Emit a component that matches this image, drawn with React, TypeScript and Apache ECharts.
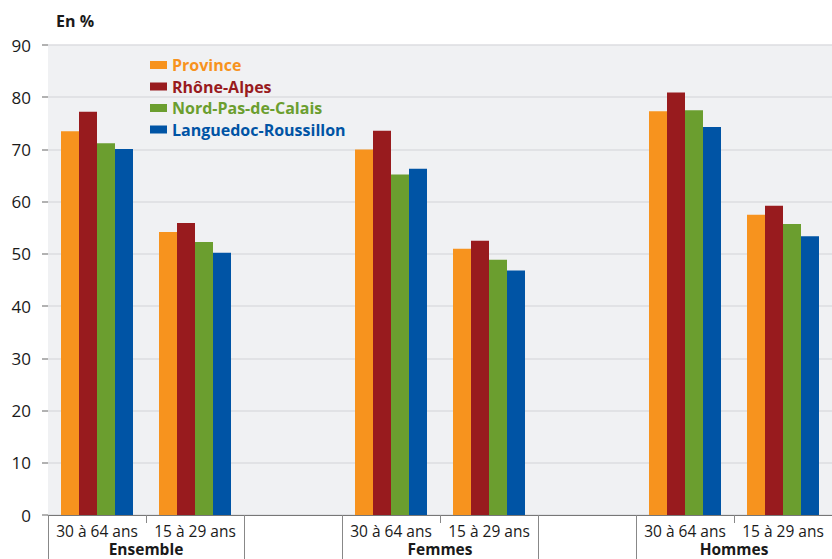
import React, { useEffect, useRef } from "react";
import * as echarts from "echarts";

const categories = ["30 à 64 ans", "15 à 29 ans", "", "30 à 64 ans", "15 à 29 ans", "", "30 à 64 ans", "15 à 29 ans"];
const groups = ["Ensemble", "Femmes", "Hommes"];
const seriesNames = ["Province", "Rhône-Alpes", "Nord-Pas-de-Calais", "Languedoc-Roussillon"];
const colors = ["#F7931E", "#981B1E", "#6B9E2F", "#0054A5"];
const province = [73.5, 54.2, null, 70.0, 51.0, null, 77.3, 57.5];
const rhoneAlpes = [77.2, 55.9, null, 73.6, 52.5, null, 80.9, 59.2];
const nordPasDeCalais = [71.2, 52.3, null, 65.2, 48.9, null, 77.5, 55.7];
const languedoc = [70.1, 50.2, null, 66.3, 46.8, null, 74.3, 53.4];
const yTicks = [0, 90, 10];

const FONT = "'Open Sans', 'Noto Sans', sans-serif";

export default function App() {
  const ref = useRef<HTMLDivElement>(null);
  useEffect(() => {
    const chart = echarts.init(ref.current!, null, { renderer: "svg" });
    const data = [province, rhoneAlpes, nordPasDeCalais, languedoc];
    chart.setOption({
      animation: false,
      textStyle: { fontFamily: FONT },
      title: {
        text: "En %",
        left: 51,
        top: 8,
        textStyle: { fontSize: 16, fontWeight: "bold", color: "#1a1a1a", fontFamily: FONT },
      },
      legend: {
        orient: "vertical",
        left: 145,
        top: 52,
        itemWidth: 17,
        itemHeight: 8,
        itemGap: 5.5,
        icon: "rect",
        data: seriesNames.map((n, i) => ({
          name: n,
          textStyle: { color: colors[i], fontWeight: "bold", fontSize: 16, fontFamily: FONT },
        })),
      },
      grid: {
        left: 48,
        top: 45,
        width: 788,
        height: 470,
        show: true,
        backgroundColor: "#F0F1F3",
        borderWidth: 0,
      },
      xAxis: [
        {
          type: "category",
          data: categories,
          position: "bottom",
          axisLine: { show: true, lineStyle: { color: "#777", width: 1 } },
          axisTick: { show: false },
          axisLabel: { color: "#1a1a1a", fontSize: 15.5, lineHeight: 16, margin: 8, interval: 0, fontFamily: FONT },
        },
        {
          type: "value",
          min: 0,
          max: 8,
          position: "bottom",
          axisLine: { show: false },
          splitLine: { show: false },
          axisTick: { show: true, customValues: [1, 4, 7], length: 8, lineStyle: { color: "#888" } },
          axisLabel: { show: false },
        },
        {
          type: "value",
          min: 0,
          max: 8,
          position: "bottom",
          axisLine: { show: false },
          splitLine: { show: false },
          axisTick: { show: true, customValues: [0, 2, 3, 5, 6, 8], length: 46, lineStyle: { color: "#888" } },
          axisLabel: {
            show: true,
            customValues: [1, 4, 7],
            margin: 26,
            fontSize: 15.5,
            lineHeight: 16,
            fontWeight: "bold",
            color: "#1a1a1a",
            fontFamily: FONT,
            formatter: (v: number) => groups[Math.round((v - 1) / 3)] ?? "",
          },
        },
      ],
      yAxis: {
        type: "value",
        min: yTicks[0],
        max: yTicks[1],
        interval: yTicks[2],
        axisLine: { show: false },
        axisTick: { show: true, length: 6, lineStyle: { color: "#999", width: 1.5 } },
        axisLabel: { color: "#1a1a1a", fontSize: 17, margin: 17, fontFamily: FONT },
        splitLine: { lineStyle: { color: "#DCDDE1", width: 1.5 } },
      },
      series: data.map((d, i) => ({
        name: seriesNames[i],
        type: "bar",
        xAxisIndex: 0,
        data: d,
        barWidth: 18,
        barGap: "0%",
        itemStyle: { color: colors[i] },
      })),
    });
    return () => chart.dispose();
  }, []);
  return <div ref={ref} style={{ width: 832, height: 559, position: "absolute", left: 0, top: 0 }} />;
}
